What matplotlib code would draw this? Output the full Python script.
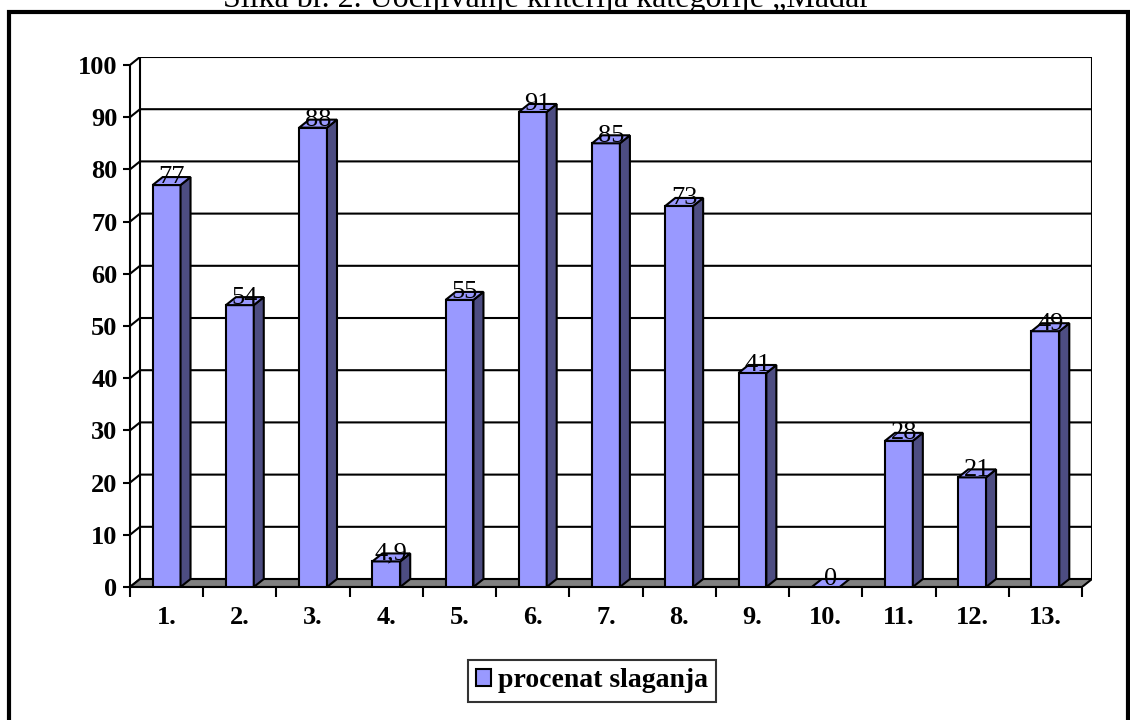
"""3D-style column chart: procenat slaganja po kriterijima (1.-13.)"""
import matplotlib.pyplot as plt
from matplotlib.patches import Polygon, Rectangle, Patch

categories = ["1.", "2.", "3.", "4.", "5.", "6.", "7.", "8.", "9.", "10.", "11.", "12.", "13."]
values = [77, 54, 88, 4.9, 55, 91, 85, 73, 41, 0, 28, 21, 49]
value_labels = ["77", "54", "88", "4,9", "55", "91", "85", "73", "41", "0", "28", "21", "49"]
y_ticks = [0, 10, 20, 30, 40, 50, 60, 70, 80, 90, 100]
series_name = "procenat slaganja"
title = "Slika br. 2. Uo\u010dljivanje kriterija kategorije \u201eMa\u0111ar\u201c"

SERIF = "Liberation Serif"
FRONT = "#9999FF"
SIDE = "#4D4D82"
FLOOR = "#808080"
LW = 1.5

W, H = 1130, 720
fig = plt.figure(figsize=(W / 100, H / 100), dpi=100)

# depth of the pseudo-3D box, in data units
DX = 0.1366
DY = 1.53
n = len(categories)
x0, x1 = -0.5, n - 0.5
ymax = 100

ax = fig.add_axes([130 / W, 1 - 587 / H, 962 / W, 530 / H])
ax.set_xlim(x0, x1 + DX)
ax.set_ylim(0, ymax + DY)
ax.patch.set_visible(False)
for s in ["top", "right"]:
    ax.spines[s].set_visible(False)
ax.spines["left"].set_bounds(0, ymax)
ax.spines["bottom"].set_bounds(x0, x1)
ax.spines["left"].set_linewidth(LW)
ax.spines["bottom"].set_linewidth(LW)

# back wall + left wall grid
for v in y_ticks:
    ax.plot([x0, x0 + DX, x1 + DX], [v, v + DY, v + DY], color="black", lw=LW, zorder=1,
            solid_joinstyle="miter")
ax.plot([x0 + DX, x0 + DX], [DY, ymax + DY], color="black", lw=LW, zorder=1)
ax.plot([x1 + DX, x1 + DX], [DY, ymax + DY], color="black", lw=LW, zorder=1)

# floor
ax.add_patch(Polygon([(x0, 0), (x1, 0), (x1 + DX, DY), (x0 + DX, DY)], closed=True,
                     facecolor=FLOOR, edgecolor="black", lw=LW, zorder=2))

# bars
bw = 0.38
for i, v in enumerate(values):
    l, r = i - bw / 2, i + bw / 2
    if v > 0:
        ax.add_patch(Rectangle((l, 0), bw, v, facecolor=FRONT, edgecolor="black", lw=LW, zorder=3))
        ax.add_patch(Polygon([(r, 0), (r + DX, DY), (r + DX, v + DY), (r, v)], closed=True,
                             facecolor=SIDE, edgecolor="black", lw=LW, zorder=3))
    ax.add_patch(Polygon([(l, v), (r, v), (r + DX, v + DY), (l + DX, v + DY)], closed=True,
                         facecolor=FRONT, edgecolor="black", lw=LW, zorder=3))
    ax.text(i + DX / 2, v + 0.3, value_labels[i], ha="center", va="baseline",
            fontsize=19, family=SERIF, color="black", zorder=4)

# ticks
ax.set_yticks(y_ticks)
ax.set_yticklabels([str(t) for t in y_ticks], fontsize=19, fontweight="bold", family=SERIF)
ax.tick_params(axis="y", direction="out", length=5, width=LW, pad=4)
ax.set_xticks(range(n))
ax.set_xticklabels(categories, fontsize=19, fontweight="bold", family=SERIF)
ax.set_xticks([k - 0.5 for k in range(n + 1)], minor=True)
ax.tick_params(axis="x", which="major", length=0, pad=14)
ax.tick_params(axis="x", which="minor", direction="out", length=7, width=LW)

# legend
leg = fig.legend(handles=[Patch(facecolor=FRONT, edgecolor="black", lw=LW, label=series_name)],
                 loc="upper center", bbox_to_anchor=(592 / W, 1 - 660 / H),
                 frameon=True, fancybox=False, edgecolor="black",
                 prop={"family": SERIF, "weight": "bold", "size": 20},
                 handlelength=0.55, handleheight=0.55, handletextpad=0.25, borderpad=0.3,
                 borderaxespad=0)
leg.get_frame().set_linewidth(LW)

# chart frame and clipped caption above it
fig.add_artist(Rectangle((9 / W, -0.1), (1128 - 9) / W, 1 - 12 / H + 0.1,
                         transform=fig.transFigure, fill=False, lw=3, edgecolor="black"))
fig.text(554 / W, 1 - 7 / H, title, ha="center", va="baseline", fontsize=23, family=SERIF)

fig.savefig("out.png", dpi=100)
